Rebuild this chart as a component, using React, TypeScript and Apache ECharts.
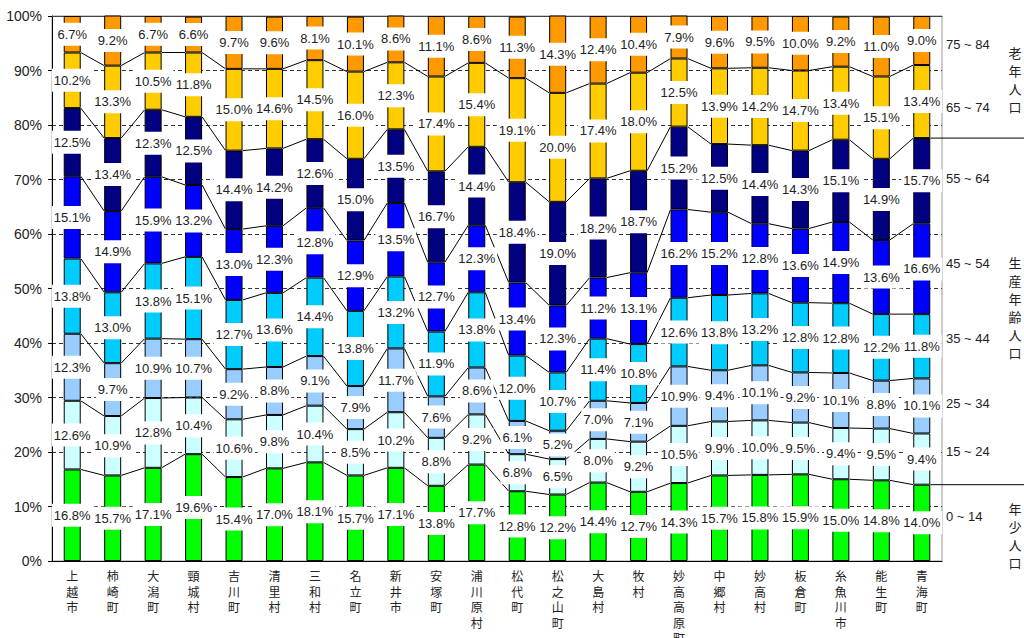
import React, { useEffect, useRef } from 'react';
import * as echarts from 'echarts';

const categories = [
  '上越市', '柿崎町', '大潟町', '頸城村', '吉川町', '清里村', '三和村', '名立町', '新井市', '安塚町', '浦川原村',
  '松代町', '松之山町', '大島村', '牧村', '妙高高原町', '中郷村', '妙高村', '板倉町', '糸魚川市', '能生町', '青海町',
];

const ageGroups = ['0 ~ 14', '15 ~ 24', '25 ~ 34', '35 ~ 44', '45 ~ 54', '55 ~ 64', '65 ~ 74', '75 ~ 84'];

const age0to14 = [16.8, 15.7, 17.1, 19.6, 15.4, 17.0, 18.1, 15.7, 17.1, 13.8, 17.7, 12.8, 12.2, 14.4, 12.7, 14.3, 15.7, 15.8, 15.9, 15.0, 14.8, 14.0];
const age15to24 = [12.6, 10.9, 12.8, 10.4, 10.6, 9.8, 10.4, 8.5, 10.2, 8.8, 9.2, 6.8, 6.5, 8.0, 9.2, 10.5, 9.9, 10.0, 9.5, 9.4, 9.5, 9.4];
const age25to34 = [12.3, 9.7, 10.9, 10.7, 9.2, 8.8, 9.1, 7.9, 11.7, 7.6, 8.6, 6.1, 5.2, 7.0, 7.1, 10.9, 9.4, 10.1, 9.2, 10.1, 8.8, 10.1];
const age35to44 = [13.8, 13.0, 13.8, 15.1, 12.7, 13.6, 14.4, 13.8, 13.2, 11.9, 13.8, 12.0, 10.7, 11.4, 10.8, 12.6, 13.8, 13.2, 12.8, 12.8, 12.2, 11.8];
const age45to54 = [15.1, 14.9, 15.9, 13.2, 13.0, 12.3, 12.8, 12.9, 13.5, 12.7, 12.3, 13.4, 12.3, 11.2, 13.1, 16.2, 15.2, 12.8, 13.6, 14.9, 13.6, 16.6];
const age55to64 = [12.5, 13.4, 12.3, 12.5, 14.4, 14.2, 12.6, 15.0, 13.5, 16.7, 14.4, 18.4, 19.0, 18.2, 18.7, 15.2, 12.5, 14.4, 14.3, 15.1, 14.9, 15.7];
const age65to74 = [10.2, 13.3, 10.5, 11.8, 15.0, 14.6, 14.5, 16.0, 12.3, 17.4, 15.4, 19.1, 20.0, 17.4, 18.0, 12.5, 13.9, 14.2, 14.7, 13.4, 15.1, 13.4];
const age75to84 = [6.7, 9.2, 6.7, 6.6, 9.7, 9.6, 8.1, 10.1, 8.6, 11.1, 8.6, 11.3, 14.3, 12.4, 10.4, 7.9, 9.6, 9.5, 10.0, 9.2, 11.0, 9.0];

const groupValues = [age0to14, age15to24, age25to34, age35to44, age45to54, age55to64, age65to74, age75to84];
const groupColors = ['#00FF00', '#CCFFFF', '#99CCFF', '#00CCFF', '#0000FF', '#000080', '#FFCC00', '#FF9900'];

const yTicks = [0, 10, 20, 30, 40, 50, 60, 70, 80, 90, 100];

const sideGroups = [
  { text: '老\n年\n人\n口', top: 43 },
  { text: '生\n産\n年\n齢\n人\n口', top: 253 },
  { text: '年\n少\n人\n口', top: 499 },
];
const sideLabelY = [516, 451, 403, 338, 263, 178, 107, 44];
// boundaries (index of group whose top is drawn) that extend to the right edge
const bracketBoundaries = [0, 5];

const NARROW = '"Liberation Sans Narrow", "Arial Narrow", "Liberation Sans", Arial, sans-serif';
const SANS = '"Liberation Sans", Arial, sans-serif';
const CJK = '"Noto Sans CJK JP", "Noto Sans CJK SC", sans-serif';
const BAR_W = 17;

export default function App() {
  const ref = useRef<HTMLDivElement>(null);

  useEffect(() => {
    if (!ref.current) return;
    const chart = echarts.init(ref.current, null, { renderer: 'svg' });

    const cum: number[][] = [];
    groupValues.forEach((vals, k) => {
      cum.push(vals.map((v, i) => (k === 0 ? 0 : cum[k - 1][i]) + v));
    });
    const n = categories.length;

    const barSeries = groupValues.map((vals, k) => ({
      type: 'bar',
      name: ageGroups[k],
      stack: 'total',
      data: vals,
      barWidth: BAR_W,
      z: 2,
      itemStyle: { color: groupColors[k], borderColor: '#000', borderWidth: 1 },
      label: {
        show: true,
        position: 'inside',
        formatter: (p: any) => `${Number(p.value).toFixed(1)}%`,
        backgroundColor: '#fff',
        padding: [5, 2],
        color: '#222',
        fontSize: 13,
        fontFamily: NARROW,
      },
    }));

    const lineSeries = {
      type: 'custom',
      z: 1,
      silent: true,
      clip: false,
      data: categories.map((_, i) => [i, 0]),
      encode: { x: 0, y: 1 },
      renderItem: (params: any, api: any) => {
        const i = params.dataIndex;
        const half = BAR_W / 2;
        const children: any[] = [];
        for (let k = 0; k < groupValues.length - 1; k++) {
          if (i < n - 1) {
            const p0 = api.coord([i, cum[k][i]]);
            const p1 = api.coord([i + 1, cum[k][i + 1]]);
            children.push({
              type: 'line',
              shape: { x1: p0[0] + half, y1: p0[1], x2: p1[0] - half, y2: p1[1] },
              style: { stroke: '#000', lineWidth: 1 },
            });
          } else if (bracketBoundaries.includes(k)) {
            const p0 = api.coord([i, cum[k][i]]);
            children.push({
              type: 'line',
              shape: { x1: p0[0] + half, y1: p0[1], x2: api.getWidth(), y2: p0[1] },
              style: { stroke: '#000', lineWidth: 1 },
            });
          }
        }
        return { type: 'group', children };
      },
    };

    const graphics: any[] = [];
    ageGroups.forEach((g, k) => {
      graphics.push({
        type: 'text',
        x: 946,
        y: sideLabelY[k],
        style: { text: g, fontSize: 13, fontFamily: SANS, fill: '#222', textVerticalAlign: 'middle' },
      });
    });
    sideGroups.forEach((sg) => {
      graphics.push({
        type: 'text',
        x: 1015,
        y: sg.top,
        style: {
          text: sg.text,
          fontSize: 13,
          lineHeight: 18,
          fontFamily: CJK,
          fill: '#222',
          textAlign: 'center',
        },
      });
    });

    chart.setOption({
      animation: false,
      grid: {
        left: 52, right: 82, top: 16, bottom: 77,
        containLabel: false, outerBoundsMode: 'none',
        show: true, borderColor: '#999', borderWidth: 1,
      },
      xAxis: [
        {
          type: 'category',
          data: categories,
          axisLine: { lineStyle: { color: '#000', width: 1 } },
          axisTick: { show: false },
          axisLabel: {
            interval: 0,
            margin: 7,
            fontSize: 12,
            lineHeight: 15.5,
            color: '#222',
            fontFamily: CJK,
            verticalAlign: 'top',
            formatter: (v: string) => v.split('').join('\n'),
          },
        },
        {
          type: 'category',
          position: 'top',
          data: categories,
          axisLine: { lineStyle: { color: '#444', width: 1 } },
          axisTick: { show: false },
          axisLabel: { show: false },
        },
      ],
      yAxis: {
        type: 'value',
        min: yTicks[0],
        max: yTicks[yTicks.length - 1],
        interval: 10,
        axisLine: { show: true, lineStyle: { color: '#000' } },
        axisTick: { show: true, length: 4, lineStyle: { color: '#000' } },
        axisLabel: { formatter: '{value}%', fontSize: 14, color: '#222', fontFamily: NARROW, margin: 10 },
        splitLine: { lineStyle: { color: '#333', type: [4, 3], width: 1 } },
      },
      series: [lineSeries, ...barSeries],
      graphic: graphics,
    });

    return () => chart.dispose();
  }, []);

  return <div ref={ref} style={{ position: 'absolute', left: 0, top: 0, width: 1024, height: 638 }} />;
}
